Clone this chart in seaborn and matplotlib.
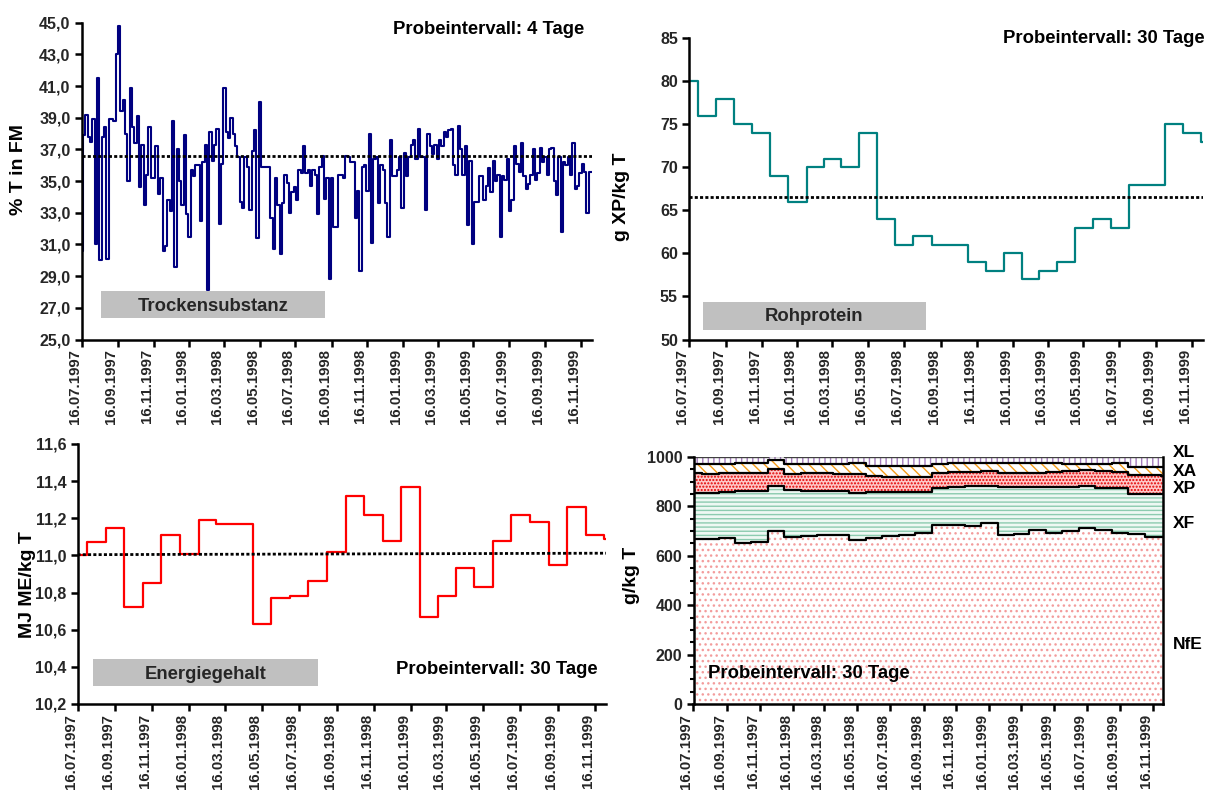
import numpy as np
import pandas as pd
import matplotlib
matplotlib.use("Agg")
import matplotlib.pyplot as plt
import matplotlib.dates as mdates
import matplotlib.ticker as mticker
from matplotlib.patches import Rectangle
import seaborn as sns

# ---------------------------------------------------------------- data
START = "1997-07-16"
AXIS_END = "1999-12-04"
TS_STEP_DAYS = 4

# Trockensubstanz, % T in FM, sampled every 4 days
ts_values = [
    30.6, 37.9, 39.2, 37.8, 37.5, 38.9, 31.0, 41.5, 30.0, 37.8,
    38.4, 30.1, 38.9, 38.9, 38.8, 43.0, 44.8, 39.4, 40.1, 38.0,
    35.0, 40.9, 38.4, 37.4, 39.1, 34.6, 37.3, 33.5, 35.4, 38.4,
    35.2, 35.2, 37.2, 34.2, 35.2, 30.6, 30.9, 33.8, 33.1, 38.8,
    29.6, 37.0, 35.0, 33.5, 37.9, 32.9, 31.5, 35.7, 35.3, 36.0,
    36.0, 32.5, 36.2, 37.3, 28.1, 38.1, 36.3, 37.3, 38.3, 32.3,
    36.1, 40.9, 38.1, 37.7, 39.0, 38.0, 37.2, 36.5, 33.7, 33.3,
    36.5, 35.9, 33.2, 36.9, 38.2, 31.4, 40.0, 35.9, 35.9, 35.9,
    35.9, 32.7, 30.7, 35.2, 33.5, 30.4, 33.6, 35.4, 34.9, 33.0,
    34.3, 34.6, 33.8, 35.7, 35.5, 37.2, 35.5, 35.7, 34.7, 35.7,
    35.4, 32.9, 35.9, 36.6, 33.9, 35.2, 28.8, 35.2, 32.1, 32.1,
    35.4, 35.4, 35.2, 36.6, 36.5, 36.2, 36.2, 32.7, 34.4, 29.3,
    35.9, 36.0, 34.4, 38.0, 31.1, 36.4, 36.5, 33.6, 36.0, 35.7,
    33.6, 31.5, 37.6, 35.3, 35.3, 35.7, 36.5, 33.3, 36.8, 35.3,
    36.5, 37.3, 37.6, 36.4, 38.3, 36.5, 36.5, 33.2, 38.0, 37.2,
    36.7, 37.3, 36.4, 37.6, 37.2, 38.1, 37.8, 38.2, 38.3, 36.0,
    35.4, 38.5, 37.0, 35.4, 37.2, 32.2, 36.3, 31.0, 33.7, 33.7,
    35.3, 35.3, 33.8, 34.7, 35.8, 34.3, 36.3, 35.0, 35.4, 31.5,
    35.3, 35.1, 36.4, 33.1, 33.8, 37.2, 36.1, 35.6, 37.4, 35.3,
    34.5, 34.8, 35.4, 37.0, 35.1, 35.5, 37.1, 36.2, 36.5, 35.4,
    37.0, 37.1, 35.0, 34.1, 36.5, 31.8, 36.2, 36.0, 36.5, 35.4,
    37.4, 34.5, 34.7, 35.5, 36.1, 35.6, 33.0, 35.6, 35.6,
]
ts_mean = 36.6

# Rohprotein, g XP/kg T, monthly
xp_values = [80, 76, 78, 75, 74, 69, 66, 70, 71, 70, 74, 64, 61, 62, 61,
             61, 59, 58, 60, 57, 58, 59, 63, 64, 63, 68, 68, 75, 74, 73]
xp_mean = 66.6

# Energiegehalt, MJ ME/kg T, monthly
me_values = [11.00, 11.07, 11.15, 10.72, 10.85, 11.11, 11.01, 11.19, 11.17, 11.17,
             10.63, 10.77, 10.78, 10.86, 11.02, 11.32, 11.22, 11.08, 11.37, 10.67,
             10.78, 10.93, 10.83, 11.08, 11.22, 11.18, 10.95, 11.26, 11.11, 11.09]
me_trend = [11.004, 11.012]

# Nutrient composition, g/kg T, monthly
nfe_values = [666, 669, 673, 652, 656, 702, 676, 680, 683, 683, 665, 672, 679, 686, 692,
              724, 724, 719, 733, 683, 687, 703, 694, 700, 711, 705, 692, 687, 676, 676]
xf_values = [189, 186, 186, 210, 206, 181, 190, 184, 180, 180, 191, 187, 180, 173, 167,
             151, 155, 164, 149, 196, 192, 174, 183, 179, 172, 170, 181, 165, 176, 176]
xa_values = [35, 39, 33, 37, 38, 36, 38, 36, 36, 37, 44, 42, 45, 44, 45,
             35, 39, 36, 35, 41, 40, 41, 37, 28, 25, 28, 33, 34, 35, 36]
xl_values = [30, 30, 30, 26, 26, 15, 30, 30, 30, 30, 26, 35, 35, 35, 35,
             29, 23, 23, 23, 23, 23, 23, 23, 29, 29, 29, 26, 39, 39, 39]

tick_dates = pd.date_range(START, "1999-11-16", freq=pd.DateOffset(months=2))
tick_labels = [d.strftime("%d.%m.%Y") for d in tick_dates]

ts_dates = pd.date_range(START, periods=len(ts_values), freq=f"{TS_STEP_DAYS}D")
month_dates = pd.date_range(START, periods=len(xp_values), freq=pd.DateOffset(months=1))

ts_x = mdates.date2num(ts_dates)
month_x = mdates.date2num(month_dates)
x_lo = mdates.date2num(pd.Timestamp(START))
x_hi = mdates.date2num(pd.Timestamp(AXIS_END))

# ---------------------------------------------------------------- style
sns.set_theme(style="ticks")
plt.rcParams["font.family"] = ["Liberation Sans", "DejaVu Sans"]
plt.rcParams["font.weight"] = "bold"
plt.rcParams["hatch.linewidth"] = 1.0

W, H = 1208, 792
fig = plt.figure(figsize=(W / 100, H / 100), dpi=100)
fig.patch.set_facecolor("white")


def px_rect(l, t, r, b):
    return [l / W, 1 - b / H, (r - l) / W, (b - t) / H]


def ftext(x, y, s, size=13.3, ha="left", va="baseline", rotation=0):
    fig.text(x / W, 1 - y / H, s, fontsize=size, fontweight="bold",
             ha=ha, va=va, rotation=rotation, color="black")


def label_box(l, t, r, b, s, baseline):
    fig.patches.append(Rectangle((l / W, 1 - b / H), (r - l) / W, (b - t) / H,
                                 transform=fig.transFigure, facecolor="#c0c0c0",
                                 edgecolor="none", zorder=3))
    fig.text((l + r) / 2 / W, 1 - baseline / H, s, fontsize=13.3, fontweight="bold",
             ha="center", va="baseline", zorder=4)


def comma(decimals):
    return mticker.FuncFormatter(lambda v, p: f"{v:.{decimals}f}".replace(".", ","))


def style_axis(ax, ylim, yticks, fmt):
    ax.set_xlim(x_lo, x_hi)
    ax.set_ylim(*ylim)
    ax.set_yticks(yticks)
    ax.yaxis.set_major_formatter(fmt)
    ax.set_xticks(mdates.date2num(tick_dates))
    ax.set_xticklabels(tick_labels, rotation=90, ha="right", va="top")
    for s in ("top", "right"):
        ax.spines[s].set_visible(False)
    for s in ("left", "bottom"):
        ax.spines[s].set_linewidth(1.8)
        ax.spines[s].set_color("black")
    ax.tick_params(axis="both", which="major", direction="out", length=5, width=1.8,
                   color="black")
    ax.tick_params(axis="x", labelsize=10.8, pad=2)
    ax.tick_params(axis="y", labelsize=11.5, pad=3)
    for lab in ax.get_xticklabels() + ax.get_yticklabels():
        lab.set_fontweight("bold")
    ax.set_xlabel("")
    ax.set_ylabel("")
    ax.set_facecolor("white")


DOTS = (0, (1.1, 0.8))

# ---------------------------------------------------------------- Trockensubstanz
ax_ts = fig.add_axes(px_rect(81.7, 22.7, 591.7, 339.5))
sns.lineplot(x=ts_x, y=ts_values, ax=ax_ts, color="#000080", linewidth=1.5,
             drawstyle="steps-mid")
ax_ts.axhline(ts_mean, color="black", linewidth=2.0, linestyle=DOTS)
style_axis(ax_ts, (25, 45), np.arange(25, 45.1, 2), comma(1))

# ---------------------------------------------------------------- Rohprotein
ax_xp = fig.add_axes(px_rect(689, 38.3, 1202.6, 339.5))
sns.lineplot(x=month_x, y=xp_values, ax=ax_xp, color="#008080", linewidth=1.6,
             drawstyle="steps-mid")
ax_xp.axhline(xp_mean, color="black", linewidth=2.0, linestyle=DOTS)
style_axis(ax_xp, (50, 85), np.arange(50, 86, 5), mticker.FormatStrFormatter("%d"))

# ---------------------------------------------------------------- Energiegehalt
ax_me = fig.add_axes(px_rect(77.5, 444, 606, 704))
sns.lineplot(x=month_x, y=me_values, ax=ax_me, color="#ff0000", linewidth=1.6,
             drawstyle="steps-mid")
sns.lineplot(x=[x_lo, x_hi], y=me_trend, ax=ax_me, color="black", linewidth=2.0,
             linestyle=DOTS)
style_axis(ax_me, (10.2, 11.6), np.round(np.arange(10.2, 11.61, 0.2), 1), comma(1))

# ---------------------------------------------------------------- Nährstoffe (stacked)
ax_nut = fig.add_axes(px_rect(693.5, 457, 1162.8, 704))
layers = [
    ("NfE", nfe_values, "white", "#f39c9c", "..."),
    ("XF", xf_values, "#eef8f3", "#8ccbaf", "----"),
    ("XP", xp_values, "#ffc8c8", "#e20000", "....."),
    ("XA", xa_values, "white", "#f59c1a", "\\\\\\"),
    ("XL", xl_values, "white", "#a47cbc", "|||"),
]
bottom = np.zeros(len(month_x))
for name, vals, face, hcol, hatch in layers:
    top = bottom + np.asarray(vals, dtype=float)
    ax_nut.fill_between(month_x, bottom, top, step="mid", facecolor=face,
                        edgecolor=hcol, hatch=hatch, linewidth=0, zorder=1)
    sns.lineplot(x=month_x, y=top, ax=ax_nut,
                 color="black" if name != "XL" else "#404040",
                 linewidth=1.6 if name != "XL" else 1.0,
                 drawstyle="steps-mid", zorder=2)
    bottom = top
style_axis(ax_nut, (0, 1000), np.arange(0, 1001, 200), mticker.FormatStrFormatter("%d"))
ax_nut.spines["right"].set_visible(True)
ax_nut.spines["right"].set_linewidth(1.8)
ax_nut.spines["right"].set_color("black")
ax_nut.yaxis.set_minor_locator(mticker.MultipleLocator(50))
ax_nut.tick_params(axis="y", which="minor", direction="out", length=3, width=1.5,
                   color="black")

# ---------------------------------------------------------------- texts
ftext(19, 170, "% T in FM", size=14, ha="center", va="center", rotation=90)
ftext(622, 197, "g XP/kg T", size=14, ha="center", va="center", rotation=90)
ftext(27, 585, "MJ ME/kg T", size=14, ha="center", va="center", rotation=90)
ftext(632, 575, "g/kg T", size=14, ha="center", va="center", rotation=90)

ftext(584, 34, "Probeintervall: 4 Tage", ha="right")
ftext(1205, 43, "Probeintervall: 30 Tage", ha="right")
ftext(598, 674, "Probeintervall: 30 Tage", ha="right")
ftext(708, 678, "Probeintervall: 30 Tage", ha="left")

label_box(101, 291, 325, 318, "Trockensubstanz", 311)
label_box(703, 302, 926, 330, "Rohprotein", 321)
label_box(93, 659, 318, 686, "Energiegehalt", 679)

for name, base in (("XL", 457), ("XA", 476), ("XP", 493), ("XF", 528), ("NfE", 649)):
    ftext(1173, base, name, size=12.5)

fig.savefig("out.png", dpi=100, facecolor="white")
